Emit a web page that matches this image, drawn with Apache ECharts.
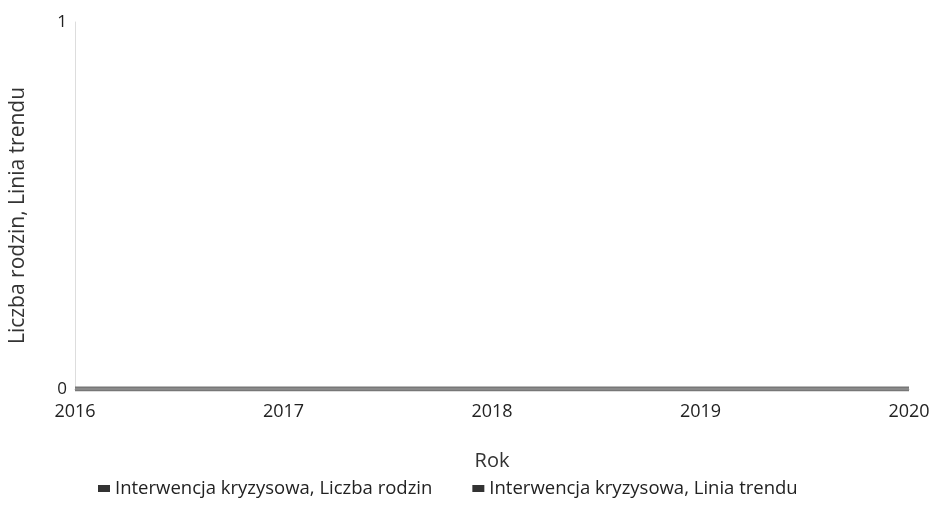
<!DOCTYPE html>
<html><head><meta charset="utf-8">
<script src="https://cdn.jsdelivr.net/npm/echarts@6/dist/echarts.min.js"></script>
<style>html,body{margin:0;padding:0;background:#fff}#c{width:933px;height:518px}</style>
</head><body><div id="c"></div>
<script>
const years = ['2016', '2017', '2018', '2019', '2020'];
const liczbaRodzin = [0, 0, 0, 0, 0];
const liniaTrendu = [0, 0, 0, 0, 0];
const seriesNames = ['Interwencja kryzysowa, Liczba rodzin', 'Interwencja kryzysowa, Linia trendu'];

const font = 'Open Sans';
const chart = echarts.init(document.getElementById('c'));
chart.setOption({
  animation: false,
  textStyle: { fontFamily: font },
  grid: { left: 73, right: 24, top: 22, bottom: 129 },
  legend: {
    top: 474, left: 93,
    itemWidth: 12, itemHeight: 7, itemGap: 40,
    icon: 'rect',
    textStyle: { fontFamily: font, fontSize: 18.5, color: '#222' },
    data: seriesNames
  },
  xAxis: {
    type: 'category', data: years, boundaryGap: false,
    name: 'Rok', nameLocation: 'middle', nameGap: 62,
    nameTextStyle: { fontFamily: font, fontSize: 20, color: '#333' },
    axisLine: { show: true, lineStyle: { color: '#bbb' } },
    axisTick: { show: false },
    axisLabel: { fontFamily: font, fontSize: 18, color: '#222', margin: 14 },
    splitLine: { show: false }
  },
  yAxis: {
    type: 'value', min: 0, max: 1, interval: 1,
    name: 'Liczba rodzin, Linia trendu', nameLocation: 'middle', nameGap: 46,
    nameTextStyle: { fontFamily: font, fontSize: 21, color: '#333', padding: [0, 20, 0, 0] },
    axisLine: { show: true, lineStyle: { color: '#ddd' } },
    axisTick: { show: false },
    axisLabel: { fontFamily: font, fontSize: 17, color: '#222', margin: 8 },
    splitLine: { show: false }
  },
  series: [
    { name: seriesNames[0], type: 'line', data: liczbaRodzin, symbol: 'none',
      color: '#333', lineStyle: { color: '#777', width: 5 } },
    { name: seriesNames[1], type: 'line', data: liniaTrendu, symbol: 'none',
      color: '#333', lineStyle: { color: '#8a8a8a', width: 2 } }
  ]
});
</script></body></html>
